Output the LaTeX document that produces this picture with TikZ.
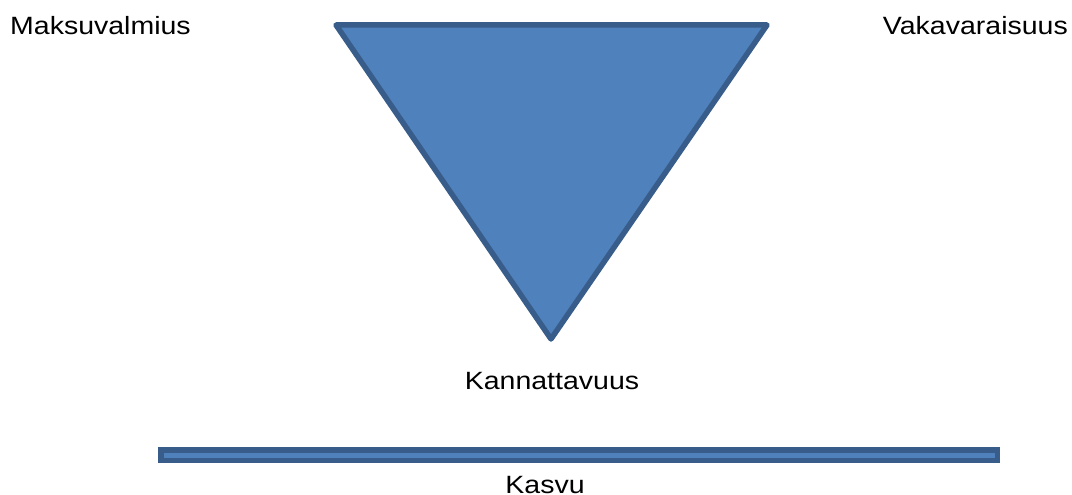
\documentclass[tikz,border=0pt]{standalone}
\usepackage{fontspec}
\setmainfont{Liberation Sans}
\definecolor{shapefill}{HTML}{4F81BD}
\definecolor{shapeline}{HTML}{385D8A}
\newcommand{\widetext}[1]{\scalebox{1.14}[1]{#1}}
\begin{document}
\begin{tikzpicture}[x=1pt,y=-1pt,
  shapestyle/.style={fill=shapefill,draw=shapeline,line width=5.5pt,line join=round},
  label/.style={font=\fontsize{25}{30}\selectfont,inner sep=0pt,text=black}]
\useasboundingbox (0,0) rectangle (1072,495);
% inverted triangle
\coordinate (tl) at (336,25);
\coordinate (tr) at (767,25);
\coordinate (bt) at (551,339);
\draw[shapestyle] (tl) -- (tr) -- (bt) -- cycle;
% growth bar
\draw[shapestyle,line join=miter] (161,449.75) rectangle (997.5,460.25);
% labels
\node[label,anchor=base west] (mv) at (10,35) {\widetext{Maksuvalmius}};
\node[label,anchor=base east] (vv) at (1068,35) {\widetext{Vakavaraisuus}};
\node[label,anchor=base] (ka) at (552,389.5) {\widetext{Kannattavuus}};
\node[label,anchor=base] (ks) at (545,493) {\widetext{Kasvu}};
\end{tikzpicture}
\end{document}
